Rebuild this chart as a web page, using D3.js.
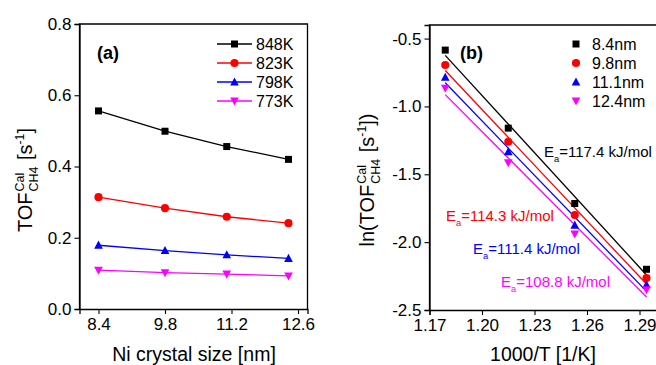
<!DOCTYPE html>
<html>
<head>
<meta charset="utf-8">
<script src="https://cdn.jsdelivr.net/npm/d3@7"></script>
<style>
  body { margin: 0; background: #fff; }
  svg text { font-family: "Liberation Sans", Arial, sans-serif; }
</style>
</head>
<body>
<svg id="chart" width="656" height="365"></svg>
<script>
// panel (a): TOF vs Ni crystal size
var sizes = [8.4, 9.8, 11.1, 12.4];
var tempLabels = ["848K", "823K", "798K", "773K"];
var tof848 = [0.556, 0.499, 0.456, 0.420];
var tof823 = [0.314, 0.283, 0.259, 0.241];
var tof798 = [0.179, 0.164, 0.152, 0.142];
var tof773 = [0.109, 0.102, 0.098, 0.093];
var xTicksA = [8.4, 9.8, 11.2, 12.6];
var yTicksA = [0.0, 0.2, 0.4, 0.6, 0.8];

// panel (b): Arrhenius plot
var invT = [1.179, 1.215, 1.253, 1.294];
var sizeLabels = ["8.4nm", "9.8nm", "11.1nm", "12.4nm"];
var ln84 = [-0.585, -1.160, -1.715, -2.200];
var ln98 = [-0.695, -1.260, -1.800, -2.265];
var ln111 = [-0.785, -1.335, -1.875, -2.315];
var ln124 = [-0.865, -1.415, -1.940, -2.350];
var eaLabels = ["117.4", "114.3", "111.4", "108.8"];
var xTicksB = [1.17, 1.20, 1.23, 1.26, 1.29];
var yTicksB = [-2.5, -2.0, -1.5, -1.0, -0.5];

var colors = ["#000000", "#ff0000", "#0000ff", "#ff00ff"];
var shapes = ["square", "circle", "tri", "tridown"];

var svg = d3.select("#chart");

function marker(g, shape, x, y, color, s) {
    s = s || 7;
    if (shape == "square") {
        g.append("rect").attr("x", x - s/2).attr("y", y - s/2).attr("width", s).attr("height", s).attr("fill", color);
    } else if (shape == "circle") {
        g.append("circle").attr("cx", x).attr("cy", y).attr("r", s*0.58).attr("fill", color);
    } else if (shape == "tri") {
        var h = s*1.1;
        g.append("path").attr("d", "M" + x + "," + (y - h*0.6) + "L" + (x + s*0.62) + "," + (y + h*0.45) + "L" + (x - s*0.62) + "," + (y + h*0.45) + "Z").attr("fill", color);
    } else {
        var h2 = s*1.1;
        g.append("path").attr("d", "M" + x + "," + (y + h2*0.6) + "L" + (x + s*0.62) + "," + (y - h2*0.45) + "L" + (x - s*0.62) + "," + (y - h2*0.45) + "Z").attr("fill", color);
    }
}

// text with sub/superscripts; pieces = [{t, k}] k: n | sup | sub | ss (sup+sub stacked)
function rich(parent, pieces, fs, color, anchor) {
    var g = parent.append("g");
    var x = 0;
    pieces.forEach(function (p) {
        if (p.k == "n") {
            var t = g.append("text").attr("x", x).attr("y", 0).attr("font-size", fs).attr("fill", color)
                .attr("xml:space", "preserve").text(p.t);
            x += t.node().getComputedTextLength();
        } else if (p.k == "sup" || p.k == "sub") {
            var t2 = g.append("text").attr("x", x).attr("y", p.k == "sup" ? -fs*0.42 : fs*0.3)
                .attr("font-size", fs*0.62).attr("fill", color).text(p.t);
            x += t2.node().getComputedTextLength();
        } else {
            var a = g.append("text").attr("x", x + 1).attr("y", -fs*0.42).attr("font-size", fs*0.62).attr("fill", color).text(p.sup);
            var b = g.append("text").attr("x", x + 1).attr("y", fs*0.3).attr("font-size", fs*0.62).attr("fill", color).text(p.sub);
            x += Math.max(a.node().getComputedTextLength(), b.node().getComputedTextLength()) + 2;
        }
    });
    if (anchor == "middle") g.selectAll("text").attr("x", function () { return +d3.select(this).attr("x") - x/2; });
    return g;
}

function frame(g, x0, x1, y0, y1) {
    g.append("path").attr("d", "M" + x0 + "," + y1 + "V" + y0 + "H" + x1 + "V" + y1)
        .attr("fill", "none").attr("stroke", "#000").attr("stroke-width", 1.3);
}

function styleAxis(ax) {
    ax.select(".domain").attr("stroke-width", 1.3);
    ax.selectAll(".tick line").attr("stroke-width", 1.1);
    ax.selectAll(".tick text").attr("font-size", 17).attr("fill", "#000")
        .attr("font-family", "'Liberation Sans', Arial, sans-serif");
}

// ---------------- panel (a) ----------------
var xA = d3.scaleLinear().domain([8.0, 12.8]).range([79.5, 307.5]);
var yA = d3.scaleLinear().domain([0, 0.8]).range([309, 24]);
var gA = svg.append("g");

frame(gA, 79.5, 307.5, 24, 309);
var axA = gA.append("g").attr("transform", "translate(0,309)")
    .call(d3.axisBottom(xA).tickValues(xTicksA).tickSize(5).tickPadding(4).tickFormat(function (d) { return d.toFixed(1); }));
styleAxis(axA);
var ayA = gA.append("g").attr("transform", "translate(79.5,0)")
    .call(d3.axisLeft(yA).tickValues(yTicksA).tickSize(5).tickPadding(3).tickFormat(function (d) { return d.toFixed(1); }));
styleAxis(ayA);

var seriesA = [tof848, tof823, tof798, tof773];
var lineA = d3.line().x(function (d, i) { return xA(sizes[i]); }).y(function (d) { return yA(d); });
seriesA.forEach(function (vals, k) {
    gA.append("path").attr("d", lineA(vals)).attr("fill", "none").attr("stroke", colors[k]).attr("stroke-width", 1.3);
    vals.forEach(function (v, i) { marker(gA, shapes[k], xA(sizes[i]), yA(v), colors[k]); });
});

gA.append("text").attr("x", 97).attr("y", 59).attr("font-size", 18).attr("font-weight", "bold").text("(a)");

var legYA = d3.scalePoint().domain(tempLabels).range([44, 101]);
tempLabels.forEach(function (lab, k) {
    var y = legYA(lab);
    gA.append("line").attr("x1", 217).attr("x2", 252).attr("y1", y).attr("y2", y).attr("stroke", colors[k]).attr("stroke-width", 1.3);
    marker(gA, shapes[k], 234.5, y, colors[k]);
    gA.append("text").attr("x", 256).attr("y", y + 6).attr("font-size", 16).text(lab);
});

var labA = gA.append("g").attr("transform", "translate(32,180) rotate(-90)");
rich(labA, [{t: "TOF", k: "n"}, {k: "ss", sup: "Cal", sub: "CH4"}, {t: "\u00a0[s", k: "n"}, {t: "-1", k: "sup"}, {t: "]", k: "n"}], 20, "#000", "middle");

gA.append("text").attr("x", 194).attr("y", 361).attr("text-anchor", "middle").attr("font-size", 19.5).text("Ni crystal size [nm]");

// ---------------- panel (b) ----------------
var xB = d3.scaleLinear().domain([1.17, 1.30]).range([429.5, 657]);
var yB = d3.scaleLinear().domain([-2.5, -0.4]).range([310, 25]);
var gB = svg.append("g");

frame(gB, 429.5, 657, 25, 310);
var axB = gB.append("g").attr("transform", "translate(0,310)")
    .call(d3.axisBottom(xB).tickValues(xTicksB).tickSize(5).tickPadding(4).tickFormat(function (d) { return d.toFixed(2); }));
styleAxis(axB);
var ayB = gB.append("g").attr("transform", "translate(429.5,0)")
    .call(d3.axisLeft(yB).tickValues(yTicksB).tickSize(5).tickPadding(3).tickFormat(function (d) { return d.toFixed(1); }));
styleAxis(ayB);

var seriesB = [ln84, ln98, ln111, ln124];
function fit(xs, ys) {
    var mx = d3.mean(xs), my = d3.mean(ys), sxy = 0, sxx = 0;
    xs.forEach(function (x, i) { sxy += (x - mx)*(ys[i] - my); sxx += (x - mx)*(x - mx); });
    var m = sxy/sxx;
    return function (x) { return my + m*(x - mx); };
}
seriesB.forEach(function (vals, k) {
    var f = fit(invT, vals);
    var ends = [d3.min(invT), d3.max(invT)];
    gB.append("line").attr("x1", xB(ends[0])).attr("y1", yB(f(ends[0])))
        .attr("x2", xB(ends[1])).attr("y2", yB(f(ends[1])))
        .attr("stroke", colors[k]).attr("stroke-width", 1.3);
});
seriesB.forEach(function (vals, k) {
    vals.forEach(function (v, i) { marker(gB, shapes[k], xB(invT[i]), yB(v), colors[k]); });
});

gB.append("text").attr("x", 460).attr("y", 59).attr("font-size", 18).attr("font-weight", "bold").text("(b)");

var legYB = d3.scalePoint().domain(sizeLabels).range([44, 101]);
sizeLabels.forEach(function (lab, k) {
    var y = legYB(lab);
    marker(gB, shapes[k], 576, y, colors[k]);
    gB.append("text").attr("x", 592).attr("y", y + 6).attr("font-size", 16).text(lab);
});

var eaPos = [[544, 157], [446, 221], [473, 254], [501, 287]];
eaLabels.forEach(function (ea, k) {
    var g = gB.append("g").attr("transform", "translate(" + eaPos[k][0] + "," + eaPos[k][1] + ")");
    rich(g, [{t: "E", k: "n"}, {t: "a", k: "sub"}, {t: "=" + ea + "\u00a0kJ/mol", k: "n"}], 15, colors[k], "start");
});

var labB = gB.append("g").attr("transform", "translate(374,180) rotate(-90)");
rich(labB, [{t: "ln(TOF", k: "n"}, {k: "ss", sup: "Cal", sub: "CH4"}, {t: "\u00a0[s", k: "n"}, {t: "-1", k: "sup"}, {t: "])", k: "n"}], 20, "#000", "middle");

gB.append("text").attr("x", 543).attr("y", 361).attr("text-anchor", "middle").attr("font-size", 19.5).text("1000/T [1/K]");
</script>
</body>
</html>
